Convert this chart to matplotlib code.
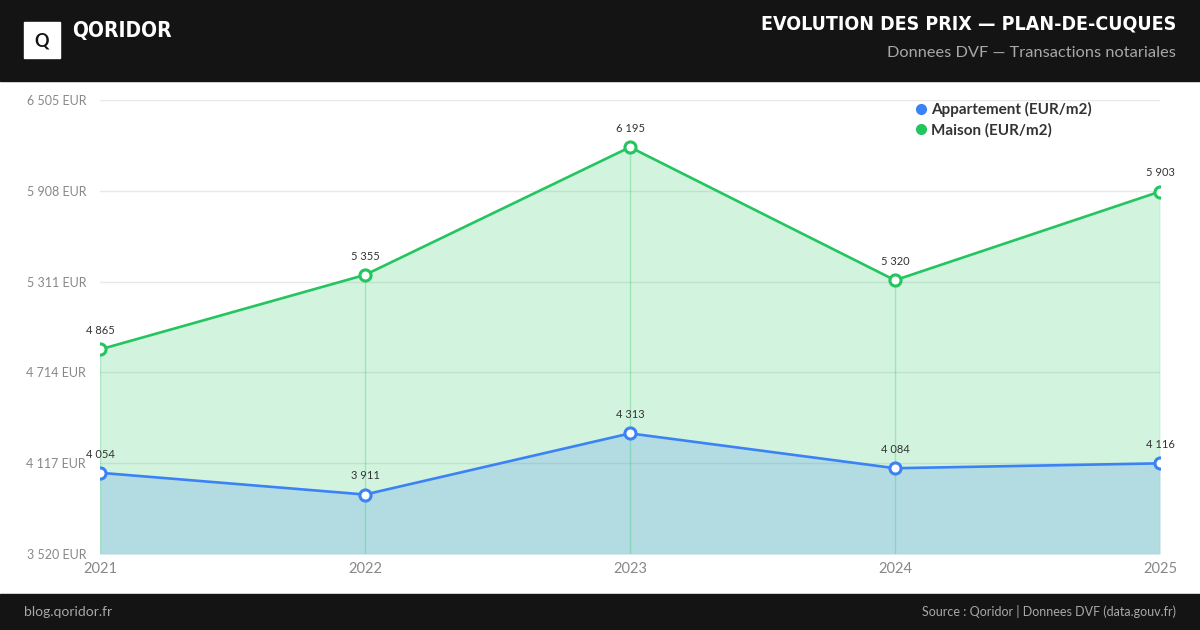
import numpy as np
import matplotlib
matplotlib.use("Agg")
import matplotlib.pyplot as plt
from matplotlib import font_manager
from matplotlib.lines import Line2D
from matplotlib.patches import Rectangle

# data
years = [2021, 2022, 2023, 2024, 2025]
appartement = [4054, 3911, 4313, 4084, 4116]
maison = [4865, 5355, 6195, 5320, 5903]
y_ticks = [3520, 4117, 4714, 5311, 5908, 6505]

BLUE = "#3b82f6"
GREEN = "#22c55e"
DARK = "#141414"
BODY = "Lato"

# narrow face for the header titles (the original uses a condensed display font)
fonts = font_manager.fontManager.ttflist
names = {f.name for f in fonts}
if "Liberation Sans Narrow" in names:
    TITLE = dict(family=["Liberation Sans Narrow", "DejaVu Sans"])
    title_size = 16
else:
    cond = [f for f in fonts if f.stretch in ("condensed", "semi-condensed")]
    if cond:
        TITLE = dict(family=[cond[0].name, "DejaVu Sans"], fontstretch=cond[0].stretch)
    else:
        TITLE = dict(family=["Roboto", "DejaVu Sans"])
    title_size = 14


def fmt(v):
    return f"{v:,}".replace(",", " ")


fig = plt.figure(figsize=(12, 6.3), dpi=100)
fig.patch.set_facecolor("white")

# header and footer bands
fig.add_artist(Rectangle((0, 1 - 81 / 630), 1, 81 / 630, transform=fig.transFigure,
                         color=DARK, zorder=0))
fig.add_artist(Rectangle((0, 0), 1, 36 / 630, transform=fig.transFigure,
                         color=DARK, zorder=0))
fig.add_artist(Rectangle((24 / 1200, 1 - 58 / 630), 36 / 1200, 36 / 630,
                         transform=fig.transFigure, color="white", zorder=1))
fig.text(42 / 1200, 1 - 41 / 630, "Q", ha="center", va="center", fontsize=13,
         fontweight="bold", color=DARK, family=BODY)
fig.text(72 / 1200, 1 - 31 / 630, "QORIDOR", ha="left", va="center",
         fontsize=title_size + 1, fontweight="bold", color="white", **TITLE)
fig.text(1176 / 1200, 1 - 24 / 630, "EVOLUTION DES PRIX \u2014 PLAN-DE-CUQUES",
         ha="right", va="center", fontsize=title_size, fontweight="bold",
         color="white", **TITLE)
fig.text(1176 / 1200, 1 - 53 / 630, "Donnees DVF \u2014 Transactions notariales",
         ha="right", va="center", fontsize=11.8, color="#a8a8a8", family=BODY)
fig.text(24 / 1200, 18 / 630, "blog.qoridor.fr", ha="left", va="center",
         fontsize=10, color="#a8a8a8", family=BODY)
fig.text(1176 / 1200, 18 / 630, "Source : Qoridor | Donnees DVF (data.gouv.fr)",
         ha="right", va="center", fontsize=9, color="#a8a8a8", family=BODY)

ax = fig.add_axes([100 / 1200, 1 - 554 / 630, 1060 / 1200, 454 / 630])
x = np.arange(len(years))

ax.fill_between(x, y_ticks[0], maison, color=GREEN, alpha=0.2, linewidth=0, zorder=1)
ax.fill_between(x, y_ticks[0], appartement, color=BLUE, alpha=0.2, linewidth=0, zorder=1)
ax.vlines(x, y_ticks[0], maison, color=GREEN, alpha=0.3, linewidth=1, zorder=1.5)

ax.plot(x, maison, color=GREEN, linewidth=1.9, marker="o", markersize=8,
        markerfacecolor="white", markeredgecolor=GREEN, markeredgewidth=2.2, zorder=3)
ax.plot(x, appartement, color=BLUE, linewidth=1.9, marker="o", markersize=8,
        markerfacecolor="white", markeredgecolor=BLUE, markeredgewidth=2.2, zorder=3)

for xi, v in zip(x, maison):
    ax.annotate(fmt(v), (xi, v), xytext=(0, 9.5), textcoords="offset points",
                ha="center", va="bottom", fontsize=8, color="#333333", family=BODY)
for xi, v in zip(x, appartement):
    ax.annotate(fmt(v), (xi, v), xytext=(0, 9.5), textcoords="offset points",
                ha="center", va="bottom", fontsize=8, color="#333333", family=BODY)

ax.set_xlim(0, len(years) - 1)
ax.set_ylim(y_ticks[0], y_ticks[-1])
ax.set_xticks(x)
ax.set_xticklabels([str(y) for y in years])
ax.set_yticks(y_ticks)
ax.set_yticklabels([f"{fmt(v)} EUR" for v in y_ticks])
ax.tick_params(axis="x", length=0, pad=6, labelsize=10.5, labelcolor="#888888")
ax.tick_params(axis="y", length=0, pad=10, labelsize=9, labelcolor="#888888")
for lab in ax.get_xticklabels() + ax.get_yticklabels():
    lab.set_family(BODY)
ax.grid(axis="y", color="#e8e8e8", linewidth=1, zorder=0)
ax.set_axisbelow(True)
for s in ax.spines.values():
    s.set_visible(False)

handles = [
    Line2D([], [], marker="o", linestyle="", color=BLUE, markersize=7),
    Line2D([], [], marker="o", linestyle="", color=GREEN, markersize=7),
]
leg = ax.legend(handles, ["Appartement (EUR/m2)", "Maison (EUR/m2)"],
                loc="upper left", bbox_to_anchor=(0.757, 1.025), frameon=False,
                handlelength=0.6, handletextpad=0.4, labelspacing=0.35,
                prop={"family": BODY, "weight": "bold", "size": 11})
for t in leg.get_texts():
    t.set_color("#333333")

fig.savefig("out.png", dpi=100)
